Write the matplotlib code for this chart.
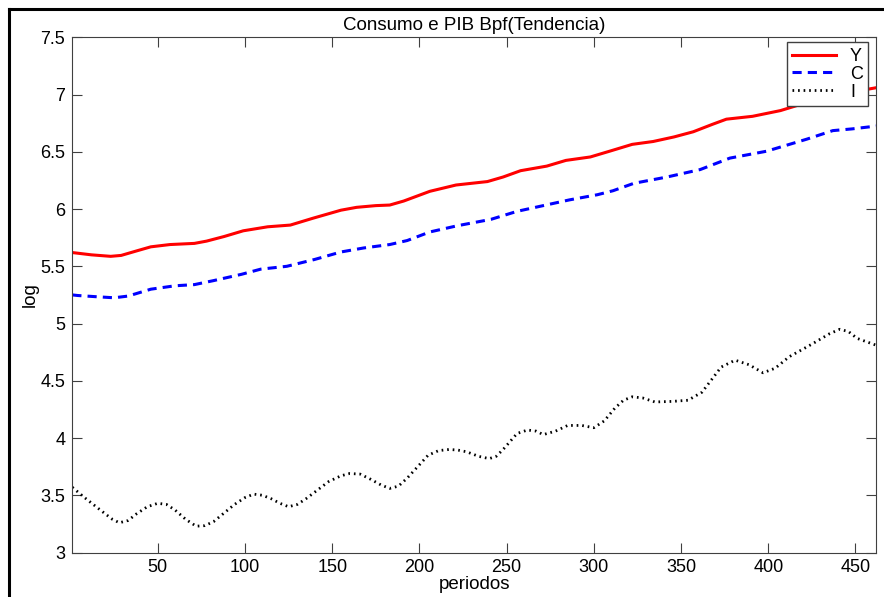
import matplotlib
matplotlib.use("Agg")
import matplotlib.pyplot as plt
from matplotlib.lines import Line2D

plt.rcParams['font.family'] = ['Liberation Sans', 'DejaVu Sans']

# datos (periodo, log)
x_y = [1, 12, 23, 29, 38, 46, 57, 71, 78, 88, 99, 113, 126, 139, 155, 164,
       175, 183, 191, 206, 221, 239, 248, 258, 273, 284, 298, 309, 322, 334,
       346, 357, 368, 376, 391, 407, 422, 440, 462]
y_val = [5.62, 5.60, 5.587, 5.595, 5.635, 5.67, 5.69, 5.70, 5.72, 5.76,
         5.81, 5.845, 5.86, 5.92, 5.99, 6.015, 6.03, 6.035, 6.07, 6.155,
         6.21, 6.24, 6.28, 6.335, 6.375, 6.425, 6.455, 6.505, 6.565, 6.59,
         6.63, 6.675, 6.74, 6.785, 6.81, 6.86, 6.93, 7.0, 7.06]

x_c = [1, 4, 14, 25, 33, 46, 60, 71, 82, 98, 109, 124, 140, 155, 168, 183,
       193, 206, 222, 241, 256, 271, 286, 302, 311, 323, 342, 361, 378, 399,
       422, 437, 448, 462]
c_val = [5.25, 5.245, 5.235, 5.225, 5.24, 5.30, 5.33, 5.34, 5.375, 5.43,
         5.475, 5.50, 5.56, 5.625, 5.66, 5.69, 5.725, 5.80, 5.855, 5.91, 5.98,
         6.03, 6.08, 6.125, 6.16, 6.225, 6.28, 6.345, 6.445, 6.505, 6.61,
         6.685, 6.70, 6.725]

x_i = [1, 8, 18, 24, 28, 33, 38, 44, 50, 55, 60, 66, 72, 77, 82, 94, 100,
       105, 110, 115, 120, 125, 130, 135, 148, 155, 160, 166, 172, 178, 183,
       188, 193, 205, 211, 217, 222, 227, 234, 240, 244, 248, 256, 262, 267,
       271, 278, 285, 293, 300, 306, 312, 317, 322, 328, 335, 345, 354, 362,
       368, 373, 381, 389, 397, 404, 412, 425, 435, 441, 446, 451, 462]
i_val = [3.57, 3.48, 3.36, 3.29, 3.26, 3.28, 3.34, 3.40, 3.43, 3.42, 3.37,
         3.29, 3.23, 3.235, 3.27, 3.42, 3.48, 3.51, 3.50, 3.47, 3.43, 3.40,
         3.42, 3.47, 3.62, 3.67, 3.69, 3.685, 3.64, 3.59, 3.56, 3.58, 3.65,
         3.85, 3.89, 3.90, 3.895, 3.88, 3.84, 3.82, 3.84, 3.90, 4.04, 4.07,
         4.06, 4.03, 4.06, 4.11, 4.11, 4.09, 4.15, 4.26, 4.33, 4.36, 4.35,
         4.315, 4.32, 4.33, 4.40, 4.52, 4.62, 4.68, 4.64, 4.57, 4.61, 4.71,
         4.82, 4.91, 4.95, 4.93, 4.87, 4.81]

fig = plt.figure(figsize=(8.84, 5.97), dpi=100)
ax = fig.add_axes([0.0818, 0.0745, 0.9096, 0.863])

ax.plot(x_y, y_val, color='red', linestyle='-', linewidth=2.2, label='Y')
ax.plot(x_c, c_val, color='blue', linestyle='--', linewidth=2.2,
        dashes=(3, 2), label='C')
ax.plot(x_i, i_val, color='black', linestyle=':', linewidth=2.0,
        dashes=(0.6, 1.4), label='I')

ax.set_xlim(1, 462)
ax.set_ylim(3, 7.5)
ax.set_xticks([50, 100, 150, 200, 250, 300, 350, 400, 450])
ax.set_yticks([3, 3.5, 4, 4.5, 5, 5.5, 6, 6.5, 7, 7.5])
ax.set_yticklabels(['3', '3.5', '4', '4.5', '5', '5.5', '6', '6.5', '7', '7.5'])
ax.tick_params(direction='in', length=7, top=True, right=True,
               labelsize=13, color='#404040', pad=5)
for s in ax.spines.values():
    s.set_color('#404040')

ax.set_title('Consumo e PIB Bpf(Tendencia)', fontsize=13.5, pad=5)
ax.set_xlabel('periodos', fontsize=13.5, labelpad=0)
ax.set_ylabel('log', fontsize=13.5, labelpad=1)

leg = ax.legend(loc='upper right', bbox_to_anchor=(0.99, 0.99),
                fontsize=13, fancybox=False, framealpha=1,
                edgecolor='#404040', borderpad=0.3, handlelength=2.4,
                handletextpad=0.8, labelspacing=0.05, borderaxespad=0)
leg.get_frame().set_linewidth(1.0)

# marco negro de la ventana
fig.add_artist(Line2D([0.0102, 0.0102], [0, 0.985], color='black', linewidth=2.2))
fig.add_artist(Line2D([0.0102, 1], [0.985, 0.985], color='black', linewidth=2.2))

plt.savefig('out.png', dpi=100)
